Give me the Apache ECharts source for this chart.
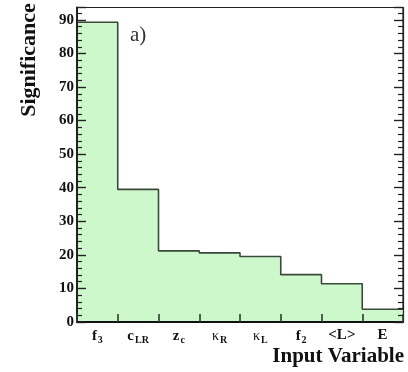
<!DOCTYPE html>
<html><head><meta charset="utf-8">
<script src="https://cdn.jsdelivr.net/npm/echarts@6/dist/echarts.min.js"></script>
<style>html,body{margin:0;padding:0;background:#fff}#c{width:408px;height:372px}</style>
</head><body><div id="c"></div>
<script>
const categories = ['f3', 'cLR', 'zc', 'κR', 'κL', 'f2', '<L>', 'E'];
const categoryLabels = ['{m|f}{s|3}', '{m|c}{s|LR}', '{m|z}{s|c}', '{k|κ}{s|R}', '{k|κ}{s|L}', '{m|f}{s|2}', '{m|<L>}', '{m|E}'];
const significance = [89.3, 39.5, 21.2, 20.6, 19.5, 14.1, 11.4, 3.8];
const yTicks = [0, 10, 20, 30, 40, 50, 60, 70, 80, 90];
const yMax = 93.7;

const serif = 'Liberation Serif';
const stepData = significance.map((v, i) => [i, v]);
stepData.push([significance.length, significance[significance.length - 1]]);

const tickOnlyY = (pos) => ({
  type: 'value', min: 0, max: yMax, interval: 10, position: pos, zlevel: 1, z: 10,
  axisLine: { show: true, lineStyle: { color: '#222', width: pos === 'left' ? 2 : 1.2 } },
  axisTick: { show: true, inside: true, length: 9, lineStyle: { color: '#222', width: 1.4 } },
  minorTick: { show: true, splitNumber: 5, length: 5, lineStyle: { color: '#222', width: 1.2 } },
  splitLine: { show: false },
  axisLabel: { show: false }
});

const chart = echarts.init(document.getElementById('c'));
chart.setOption({
  animation: false,
  grid: { left: 77, right: 5, top: 7.5, bottom: 50, show: true, borderColor: '#222', borderWidth: 1.2 },
  xAxis: [{
    type: 'category', data: categories, boundaryGap: true, position: 'bottom', zlevel: 1, z: 10,
    axisLine: { show: true, lineStyle: { color: '#111', width: 2 } },
    axisTick: { show: true, inside: true, length: 8, lineStyle: { color: '#2a3a2a', width: 1.6 } },
    axisLabel: { show: false }
  }, {
    type: 'value', min: 0, max: categories.length, show: false
  }, {
    type: 'category', data: categories, boundaryGap: true, position: 'bottom',
    axisLine: { show: false }, axisTick: { show: false },
    axisLabel: {
      margin: 6, color: '#111', interval: 0,
      formatter: (v, i) => categoryLabels[i],
      rich: {
        m: { fontFamily: serif, fontWeight: 'bold', fontSize: 15, color: '#111' },
        k: { fontFamily: serif, fontSize: 14, color: '#111' },
        s: { fontFamily: serif, fontWeight: 'bold', fontSize: 10, color: '#111', padding: [7, 0, 0, 1] }
      }
    }
  }],
  yAxis: [tickOnlyY('left'), tickOnlyY('right'), {
    type: 'value', min: 0, max: yMax, interval: 10, position: 'left',
    axisLine: { show: false }, axisTick: { show: false }, minorTick: { show: false },
    splitLine: { show: false },
    axisLabel: {
      margin: 3, color: '#111', fontFamily: serif, fontWeight: 'bold', fontSize: 15,
      showMaxLabel: false,
      formatter: v => (yTicks.indexOf(v) >= 0 ? String(v) : '')
    }
  }],
  series: [{
    type: 'line', xAxisIndex: 1, yAxisIndex: 0, data: stepData, step: 'end', symbol: 'none',
    lineStyle: { color: '#3a4a3a', width: 1.6 },
    areaStyle: { color: '#ccf8cc', opacity: 1, origin: 'start' }, z: 2
  }],
  graphic: [
    { type: 'text', left: 130, top: 25, style: { text: 'a)', font: '21px "Liberation Serif"', fill: '#333' } },
    { type: 'text', x: 404, y: 357, style: { text: 'Input Variable', font: 'bold 21px "Liberation Serif"', fill: '#111', textAlign: 'right', textVerticalAlign: 'middle' } },
    { type: 'text', x: 29, y: 60, rotation: Math.PI / 2, style: { text: 'Significance', font: 'bold 22px "Liberation Serif"', fill: '#111', textAlign: 'center', textVerticalAlign: 'middle' } }
  ]
});
</script></body></html>
